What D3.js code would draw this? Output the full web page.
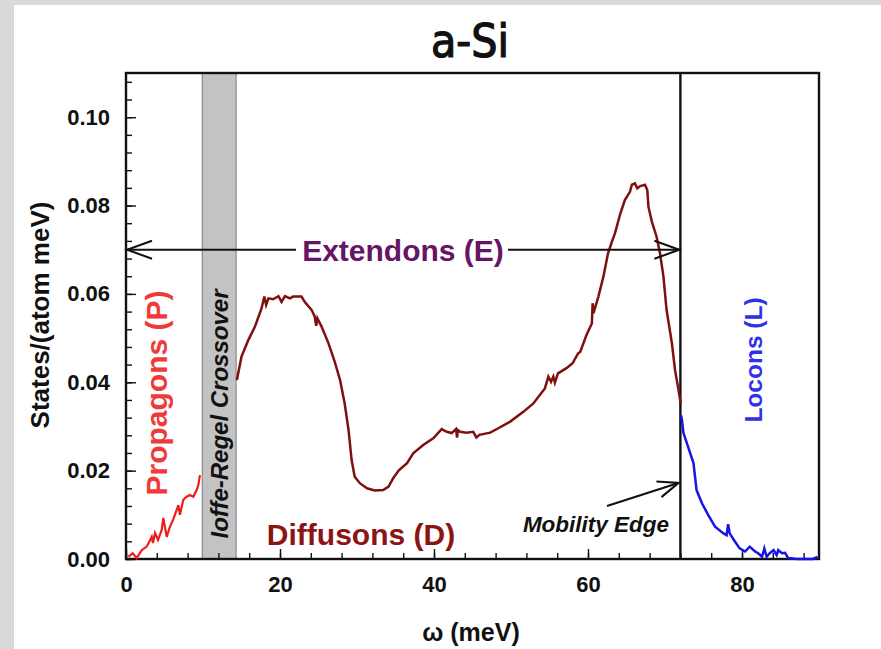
<!DOCTYPE html>
<html>
<head>
<meta charset="utf-8">
<script src="https://cdn.jsdelivr.net/npm/d3@7/dist/d3.min.js"></script>
<style>
  html, body { margin: 0; padding: 0; background: #fff; }
  svg { display: block; }
</style>
</head>
<body>
<svg id="chart" width="881" height="649"></svg>
<script>
// ---- data ----
const title = "a-Si";
const xLabel = "ω (meV)";
const yLabel = "States/(atom meV)";
const xDomain = [0, 90];
const yDomain = [0, 0.11];
const xMajorTicks = [0, 20, 40, 60, 80];
const yMajorTicks = [0, 0.02, 0.04, 0.06, 0.08, 0.10];
const xMinorStep = 4;
const yMinorStep = 0.004;
const crossoverBand = [9.9, 14.3];
const mobilityEdge = 72;
const extendonsLevel = 0.07;

const propagons = [
  [0.3,0.0005],[0.87,0.0013],[1.39,0.0002],[2.04,0.002],[2.69,0.0028],[3.34,0.005],[3.5,0.0036],
  [3.77,0.0059],[4.16,0.0043],[4.64,0.0066],[4.84,0.0093],[5.29,0.005],[5.71,0.0073],[6.1,0.0088],
  [6.8,0.0122],[7.0,0.010],[7.44,0.0134],[7.88,0.0141],[8.3,0.0145],[8.74,0.0141],[9.18,0.0156],
  [9.4,0.0168],[9.6,0.0190]
];

const diffusons = [
  [14.4,0.0405],[15.0,0.0458],[15.9,0.0496],[16.75,0.0526],[17.6,0.0567],[17.97,0.0594],[18.2,0.0575],
  [18.5,0.059],[19.1,0.0588],[19.8,0.0595],[20.2,0.0582],[20.65,0.0595],[21.3,0.059],[21.7,0.0594],
  [22.8,0.0594],[23.2,0.0582],[24.1,0.0564],[24.5,0.0549],[24.7,0.0528],[24.85,0.0545],[25.4,0.0526],
  [26.3,0.0488],[27.1,0.0447],[27.8,0.0405],[28.4,0.0352],[28.9,0.0292],[29.3,0.0224],[29.7,0.0186],
  [30.4,0.0171],[31.3,0.016],[32.3,0.0155],[33.4,0.0156],[34.1,0.0164],[34.7,0.0183],[35.4,0.0200],
  [36.5,0.0217],[37.3,0.0239],[38.6,0.0258],[39.9,0.0273],[41.0,0.0294],[41.65,0.0288],[42.3,0.0285],
  [42.85,0.0294],[43.0,0.0275],[43.1,0.0292],[43.4,0.0288],[44.2,0.0286],[45.1,0.0288],[45.5,0.0275],
  [45.9,0.0281],[47.3,0.0286],[48.35,0.0296],[49.9,0.0311],[51.6,0.0333],[52.9,0.0352],[54.4,0.0386],
  [54.85,0.0413],[55.2,0.0401],[55.5,0.0413],[55.7,0.0399],[56.1,0.042],[57.2,0.0432],[58.0,0.0443],
  [58.7,0.0465],[59.0,0.0469],[59.8,0.0507],[60.5,0.0533],[60.6,0.0579],[60.7,0.0556],[61.35,0.0594],
  [62.0,0.0639],[62.6,0.0692],[63.1,0.0718],[63.5,0.0737],[64.2,0.0782],[64.8,0.0813],[65.45,0.0831],
  [65.7,0.0847],[66.1,0.085],[66.4,0.0839],[66.8,0.0844],[67.4,0.0847],[67.7,0.0835],[67.85,0.0797],
  [68.3,0.0763],[68.9,0.073],[69.35,0.0692],[69.8,0.0639],[70.2,0.0564],[70.9,0.0488],[71.3,0.0428],
  [71.75,0.0383],[72.05,0.0352]
];

const locons = [
  [72.1,0.0325],[72.2,0.0315],[72.4,0.0285],[73.0,0.0254],[73.7,0.0217],[74.1,0.0156],[74.8,0.0126],
  [75.6,0.010],[76.5,0.0073],[77.6,0.0058],[78.0,0.0054],[78.2,0.0079],[78.4,0.0058],[79.1,0.0039],
  [79.7,0.0024],[80.4,0.0017],[81.0,0.0028],[81.7,0.0017],[82.1,0.0013],[82.6,0.0005],[82.9,0.0024],
  [83.2,0.0005],[83.6,0.0013],[84.1,0.002],[84.5,0.0009],[84.7,0.002],[85.2,0.0013],[85.6,0.0014],
  [86.0,0.0002],[87.1,0.0],[89.2,0.0],[89.8,0.0005]
];

// ---- drawing ----
const svg = d3.select("#chart");
const W = 881, H = 649;
const m = { left: 126, right: 819, top: 73, bottom: 559 };

// background with grey margins
svg.append("rect").attr("width", W).attr("height", H).attr("fill", "#d9d9d9");
svg.append("rect").attr("x", 14).attr("y", 5).attr("width", W - 14).attr("height", H - 5).attr("fill", "#ffffff");

const x = d3.scaleLinear().domain(xDomain).range([m.left, m.right]);
const y = d3.scaleLinear().domain(yDomain).range([m.bottom, m.top]);

// title
svg.append("text").attr("x", 470).attr("y", 57).attr("text-anchor", "middle")
  .attr("font-family", "'DejaVu Sans Condensed', 'Liberation Sans Narrow', sans-serif")
  .attr("font-size", 46).attr("font-weight", "normal").attr("fill", "#111")
  .attr("stroke", "#111").attr("stroke-width", 1.2).text(title);

// crossover band
svg.append("rect")
  .attr("x", x(crossoverBand[0])).attr("y", m.top)
  .attr("width", x(crossoverBand[1]) - x(crossoverBand[0])).attr("height", m.bottom - m.top)
  .attr("fill", "#c3c3c3").attr("stroke", "#7a7a7a").attr("stroke-width", 1);

// axes with inward ticks
const font = "'Liberation Sans', Arial, sans-serif";
const xMinor = d3.range(xDomain[0], xDomain[1] + 0.001, xMinorStep);
const yMinor = d3.range(yDomain[0], yDomain[1] + 1e-9, yMinorStep);

const xAxisMinor = d3.axisBottom(x).tickValues(xMinor).tickSize(-6).tickFormat("");
const xAxisMajor = d3.axisBottom(x).tickValues(xMajorTicks).tickSize(-10).tickPadding(17).tickFormat(d3.format("d"));
const yAxisMinor = d3.axisLeft(y).tickValues(yMinor).tickSize(-6).tickFormat("");
const yAxisMajor = d3.axisLeft(y).tickValues(yMajorTicks).tickSize(-10).tickPadding(16).tickFormat(d3.format(".2f"));

function styleAxis(g) {
  g.select(".domain").remove();
  g.selectAll(".tick line").attr("stroke", "#111").attr("stroke-width", 1.4);
  g.selectAll(".tick text").attr("font-family", font).attr("font-size", 22)
    .attr("font-weight", "bold").attr("fill", "#111");
}
svg.append("g").attr("transform", `translate(0,${m.bottom})`).call(xAxisMinor).call(styleAxis);
svg.append("g").attr("transform", `translate(0,${m.bottom})`).call(xAxisMajor).call(styleAxis);
svg.append("g").attr("transform", `translate(${m.left},0)`).call(yAxisMinor).call(styleAxis);
svg.append("g").attr("transform", `translate(${m.left},0)`).call(yAxisMajor).call(styleAxis);

// frame
svg.append("rect").attr("x", m.left).attr("y", m.top)
  .attr("width", m.right - m.left).attr("height", m.bottom - m.top)
  .attr("fill", "none").attr("stroke", "#111").attr("stroke-width", 2.4);

// mobility edge vertical line
svg.append("line").attr("x1", x(mobilityEdge)).attr("x2", x(mobilityEdge))
  .attr("y1", m.top).attr("y2", m.bottom).attr("stroke", "#111").attr("stroke-width", 2.4);

// data lines
const line = d3.line().x(d => x(d[0])).y(d => y(d[1]));
svg.append("path").datum(propagons).attr("d", line).attr("fill", "none")
  .attr("stroke", "#ee1c1c").attr("stroke-width", 2.2);
svg.append("path").datum(diffusons).attr("d", line).attr("fill", "none")
  .attr("stroke", "#7f1010").attr("stroke-width", 2.5);
svg.append("path").datum(locons).attr("d", line).attr("fill", "none")
  .attr("stroke", "#1515e6").attr("stroke-width", 2.5);

// extendons arrow
const ey = y(extendonsLevel);
const ex0 = x(0), ex1 = x(mobilityEdge);
svg.append("line").attr("x1", ex0).attr("x2", 296).attr("y1", ey).attr("y2", ey).attr("stroke", "#111").attr("stroke-width", 2);
svg.append("line").attr("x1", 508).attr("x2", ex1).attr("y1", ey).attr("y2", ey).attr("stroke", "#111").attr("stroke-width", 2);
svg.append("path").attr("d", `M${ex0 + 26},${ey - 9} L${ex0 + 1},${ey} L${ex0 + 26},${ey + 9}`)
  .attr("fill", "none").attr("stroke", "#111").attr("stroke-width", 2);
svg.append("path").attr("d", `M${ex1 - 26},${ey - 9} L${ex1 - 1},${ey} L${ex1 - 26},${ey + 9}`)
  .attr("fill", "none").attr("stroke", "#111").attr("stroke-width", 2);
svg.append("text").attr("x", 403).attr("y", ey + 11).attr("text-anchor", "middle")
  .attr("font-family", font).attr("font-size", 30).attr("font-weight", "bold")
  .attr("fill", "#661466").text("Extendons (E)");

// mobility edge arrow
const ax0 = 607, ay0 = 506, ax1 = x(mobilityEdge) - 2, ay1 = y(0.0172);
svg.append("line").attr("x1", ax0).attr("y1", ay0).attr("x2", ax1).attr("y2", ay1)
  .attr("stroke", "#111").attr("stroke-width", 2.2);
{
  const ang = Math.atan2(ay1 - ay0, ax1 - ax0);
  const L = 22, s = 0.38;
  const p1 = [ax1 - L * Math.cos(ang - s), ay1 - L * Math.sin(ang - s)];
  const p2 = [ax1 - L * Math.cos(ang + s), ay1 - L * Math.sin(ang + s)];
  svg.append("path").attr("d", `M${p1[0]},${p1[1]} L${ax1},${ay1} L${p2[0]},${p2[1]}`)
    .attr("fill", "none").attr("stroke", "#111").attr("stroke-width", 2.2);
}
svg.append("text").attr("x", 596).attr("y", 532).attr("text-anchor", "middle")
  .attr("font-family", font).attr("font-size", 22.5).attr("font-weight", "bold").attr("font-style", "italic")
  .attr("fill", "#111").text("Mobility Edge");

// rotated labels
function vtext(cx, cy, txt, size, color, italic) {
  svg.append("text").attr("transform", `translate(${cx},${cy}) rotate(-90)`)
    .attr("text-anchor", "middle").attr("dominant-baseline", "central")
    .attr("font-family", font).attr("font-size", size).attr("font-weight", "bold")
    .attr("font-style", italic ? "italic" : "normal").attr("fill", color).text(txt);
}
vtext(156, 393, "Propagons (P)", 30, "#ee3a3a", false);
vtext(219, 414, "Ioffe-Regel Crossover", 24, "#111", true);
vtext(753, 360, "Locons (L)", 24.5, "#3030ea", false);

svg.append("text").attr("x", 361).attr("y", 545).attr("text-anchor", "middle")
  .attr("font-family", font).attr("font-size", 30).attr("font-weight", "bold")
  .attr("fill", "#8b1515").text("Diffusons (D)");

// axis titles
svg.append("text").attr("x", 471).attr("y", 641).attr("text-anchor", "middle")
  .attr("font-family", font).attr("font-size", 25).attr("font-weight", "bold").attr("fill", "#111").text(xLabel);
vtext(40, 315, yLabel, 26, "#111", false);
</script>
</body>
</html>
